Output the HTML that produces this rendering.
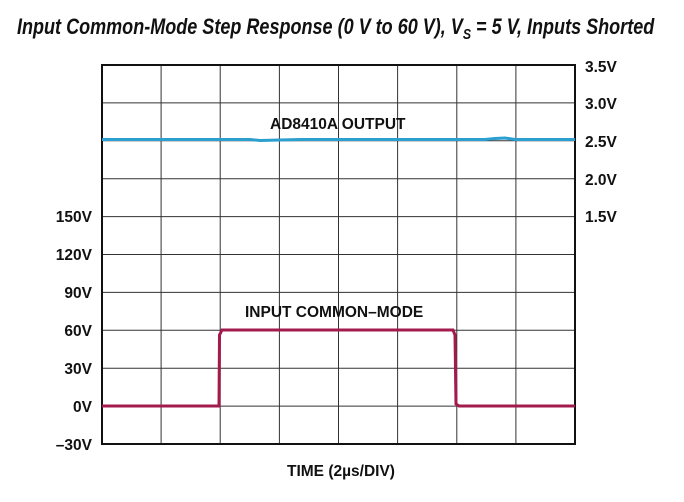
<!DOCTYPE html>
<html><head><style>body{margin:0;background:#fff}</style></head><body>
<svg width="684" height="497" xmlns="http://www.w3.org/2000/svg" font-family="Liberation Sans, sans-serif">
<rect width="684" height="497" fill="#fff"/>
<text x="0" y="0" font-size="22" font-style="italic" font-weight="bold" fill="#111" transform="translate(17,34) scale(0.82,1)">Input Common-Mode Step Response (0 V to 60 V), V<tspan font-size="15" dy="5">S</tspan><tspan dy="-5"> = 5 V, Inputs Shorted</tspan></text>
<g stroke="#333" stroke-width="1">
<line x1="161.1" y1="65" x2="161.1" y2="444"/><line x1="220.2" y1="65" x2="220.2" y2="444"/><line x1="279.4" y1="65" x2="279.4" y2="444"/><line x1="338.5" y1="65" x2="338.5" y2="444"/><line x1="397.6" y1="65" x2="397.6" y2="444"/><line x1="456.8" y1="65" x2="456.8" y2="444"/><line x1="515.9" y1="65" x2="515.9" y2="444"/>
<line x1="102" y1="102.9" x2="575" y2="102.9"/><line x1="102" y1="140.8" x2="575" y2="140.8"/><line x1="102" y1="178.7" x2="575" y2="178.7"/><line x1="102" y1="216.6" x2="575" y2="216.6"/><line x1="102" y1="254.5" x2="575" y2="254.5"/><line x1="102" y1="292.4" x2="575" y2="292.4"/><line x1="102" y1="330.3" x2="575" y2="330.3"/><line x1="102" y1="368.2" x2="575" y2="368.2"/><line x1="102" y1="406.1" x2="575" y2="406.1"/>
</g>
<rect x="102" y="65" width="473" height="379" fill="none" stroke="#111" stroke-width="2"/>
<path d="M102,139.5 L250,139.5 L260,140.5 L300,139.5 L485,139.5 L495,138.5 L505,138 L515,139.5 L575,139.5" fill="none" stroke="#2a9fd0" stroke-width="3"/>
<path d="M102,406 L219,406 L219.5,335 L222,330 L453,330 L455,335 L456,404 L459,406 L575,406" fill="none" stroke="#a31a4c" stroke-width="3"/>
<g font-size="15.5" font-weight="bold" fill="#111">
<text x="270" y="129">AD8410A OUTPUT</text>
<text x="245" y="317">INPUT COMMON–MODE</text>
<text x="287" y="476">TIME (2µs/DIV)</text>
<g text-anchor="start">
<text x="585" y="72">3.5V</text><text x="585" y="109">3.0V</text><text x="585" y="147">2.5V</text><text x="585" y="185">2.0V</text><text x="585" y="222">1.5V</text>
</g>
<g text-anchor="end">
<text x="92" y="222">150V</text><text x="92" y="260">120V</text><text x="92" y="298">90V</text><text x="92" y="336">60V</text><text x="92" y="374">30V</text><text x="92" y="412">0V</text><text x="92" y="450">–30V</text>
</g>
</g>
</svg>
</body></html>
